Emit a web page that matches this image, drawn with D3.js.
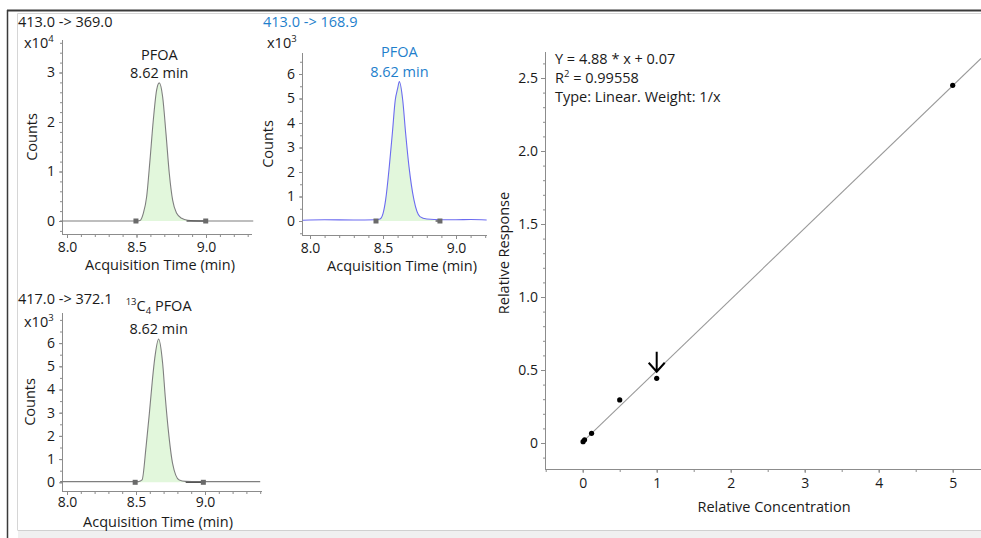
<!DOCTYPE html>
<html><head><meta charset="utf-8">
<script src="https://cdn.jsdelivr.net/npm/d3@7"></script>
<style>
html,body{margin:0;padding:0;background:#fff;}
svg{display:block;font-family:"Open Sans","Noto Sans",sans-serif;}
</style></head>
<body><svg id="c" width="981" height="538"></svg>
<script>
// ---------- DATA ----------
const chrom1Title = "413.0 -> 369.0";
const chrom1Times  = [7.95, 8.40, 8.50, 8.525, 8.549, 8.573, 8.597, 8.621, 8.645, 8.664, 8.688, 8.712, 8.736, 8.76, 8.789, 8.825, 8.87, 8.95, 9.10, 9.34];
const chrom1Counts = [0, 0, 0, 0.01, 0.155, 0.49, 1.23, 2.04, 2.65, 2.79, 2.51, 1.77, 0.96, 0.42, 0.155, 0.054, 0.015, 0, 0, 0]; // x10^4
const chrom1Integration = [8.496, 8.998];

const chrom2Title = "413.0 -> 168.9";
const chrom2Times  = [7.95, 8.10, 8.30, 8.45, 8.479, 8.50, 8.518, 8.543, 8.564, 8.584, 8.60, 8.612, 8.635, 8.655, 8.678, 8.712, 8.753, 8.80, 8.90, 9.00, 9.10, 9.21];
const chrom2Counts = [0.03, 0.05, 0.04, 0.05, 0.08, 0.3, 0.86, 2.22, 3.58, 4.94, 5.4, 5.69, 4.94, 3.58, 2.22, 0.86, 0.18, 0.08, 0.05, 0.05, 0.06, 0.04]; // x10^3
const chrom2Integration = [8.452, 8.89];

const chrom3Title = "417.0 -> 372.1";
const chrom3Times  = [7.95, 8.40, 8.52, 8.544, 8.573, 8.597, 8.619, 8.636, 8.664, 8.693, 8.712, 8.734, 8.765, 8.813, 8.86, 8.95, 9.40];
const chrom3Counts = [0.03, 0.03, 0.03, 0.1, 1.54, 2.98, 4.42, 5.35, 6.17, 5.13, 3.69, 2.26, 0.82, 0.1, 0.04, 0.03, 0.03]; // x10^3
const chrom3Integration = [8.494, 8.988];

const peakName = "PFOA";
const peakRT = "8.62 min";
const timeTicks = [8.0, 8.5, 9.0];
const counts1Ticks = [0, 1, 2, 3];
const counts2Ticks = [0, 1, 2, 3, 4, 5, 6];

const calConc = [0.005, 0.025, 0.12, 0.5, 1.0, 5.0];
const calResp = [0.009, 0.022, 0.066, 0.295, 0.443, 2.45];
const fitSlope = 0.488, fitIntercept = 0.007;
const calXTicks = [0, 1, 2, 3, 4, 5];
const calYTicks = [0, 0.5, 1.0, 1.5, 2.0, 2.5];
const selectedConc = 1.0;
const fitLines = ["Y = 4.88 * x + 0.07", "R2 = 0.99558", "Type: Linear. Weight: 1/x"];

// ---------- DRAW ----------
const svg = d3.select("#c");
const TXT = "#1a1a1a", AX = "#8c8c8c", BLUE = "#1f7fcc";
const FS = 14.5, TFS = 14, FONT = '"Open Sans","Noto Sans",sans-serif';

// frame
svg.append("rect").attr("x",18).attr("y",530).attr("width",963).attr("height",8).attr("fill","#f0f0f0");
svg.append("line").attr("x1",17.5).attr("x2",981).attr("y1",13.5).attr("y2",13.5).attr("stroke","#d6d6d6");
svg.append("line").attr("x1",17.5).attr("x2",17.5).attr("y1",13.5).attr("y2",530).attr("stroke","#d6d6d6");
svg.append("line").attr("x1",17.5).attr("x2",981).attr("y1",530.5).attr("y2",530.5).attr("stroke","#d0d0d0");
svg.append("line").attr("x1",7).attr("x2",981).attr("y1",10.5).attr("y2",10.5).attr("stroke","#3a3a3a").attr("stroke-width",2);
svg.append("line").attr("x1",7.5).attr("x2",7.5).attr("y1",10).attr("y2",538).attr("stroke","#3a3a3a").attr("stroke-width",1.5);

function ticksBetween(a, b, step){
  const out = [];
  const n0 = Math.ceil(a/step - 1e-9), n1 = Math.floor(b/step + 1e-9);
  for(let i=n0;i<=n1;i++) out.push(+(i*step).toFixed(6));
  return out;
}
function styleAxis(a){
  a.attr("font-size",TFS).attr("font-family",FONT);
  a.select(".domain").remove();
  a.selectAll(".tick line").attr("stroke",AX);
  a.selectAll(".tick text").attr("fill",TXT).attr("font-size",TFS);
}

function chrom(cfg){
  const g = svg.append("g");
  const x = d3.scaleLinear().domain([8,9]).range(cfg.xAnch);
  x.domain([x.invert(cfg.xR[0]), x.invert(cfg.xR[1])]).range(cfg.xR);
  const y = d3.scaleLinear().domain([0,1]).range(cfg.yAnch);
  y.domain([y.invert(cfg.yR[0]), y.invert(cfg.yR[1])]).range(cfg.yR);
  const col = cfg.color;
  g.append("text").attr("x",cfg.titleX).attr("y",cfg.titleY).attr("font-size",FS).attr("fill",cfg.titleColor).text(cfg.title);
  const m = g.append("text").attr("x",cfg.multX).attr("y",cfg.multY).attr("font-size",FS).attr("fill",TXT);
  m.append("tspan").text("x10");
  m.append("tspan").attr("font-size",9.5).attr("dy",-6).text(cfg.exp);
  g.append("text").attr("transform",`translate(${cfg.xR[0]-cfg.yLabOff},${(cfg.yR[0]+cfg.yR[1])/2}) rotate(-90)`)
    .attr("text-anchor","middle").attr("font-size",FS).attr("fill",TXT).text("Counts");
  // y axis
  const ya = g.append("g").attr("transform",`translate(${cfg.xR[0]},0)`)
    .call(d3.axisLeft(y).tickValues(cfg.yTicks).tickSize(3).tickPadding(4).tickFormat(d3.format("d")));
  styleAxis(ya);
  ya.selectAll("line.mn").data(ticksBetween(y.domain()[0], y.domain()[1], cfg.yMinor)).join("line").attr("class","mn")
    .attr("x1",-2).attr("x2",0).attr("y1",d=>y(d)+0.5).attr("y2",d=>y(d)+0.5).attr("stroke",AX);
  g.append("line").attr("x1",cfg.xR[0]+0.5).attr("x2",cfg.xR[0]+0.5).attr("y1",cfg.yR[1]).attr("y2",cfg.yR[0]).attr("stroke",AX);
  // x axis
  const xa = g.append("g").attr("transform",`translate(0,${cfg.yR[0]})`)
    .call(d3.axisBottom(x).tickValues(timeTicks).tickSize(4).tickPadding(cfg.xTickPad).tickFormat(d3.format(".1f")));
  styleAxis(xa);
  xa.selectAll("line.mn").data(ticksBetween(x.domain()[0], x.domain()[1], 0.1)).join("line").attr("class","mn")
    .attr("x1",d=>x(d)+0.5).attr("x2",d=>x(d)+0.5).attr("y1",0).attr("y2",3).attr("stroke",AX);
  g.append("line").attr("x1",cfg.xR[0]).attr("x2",cfg.xR[1]).attr("y1",cfg.yR[0]+0.5).attr("y2",cfg.yR[0]+0.5).attr("stroke",AX);
  g.append("text").attr("x",cfg.xLabX).attr("y",cfg.yR[0]+cfg.xLabOff).attr("text-anchor","middle").attr("font-size",FS).attr("fill",TXT).text("Acquisition Time (min)");
  // data
  const pts = cfg.times.map((t,i)=>[t, cfg.counts[i]]);
  const inInt = pts.filter(p=>p[0]>=cfg.integ[0] && p[0]<=cfg.integ[1]);
  const fillPts = [[cfg.integ[0], 0], ...inInt, [cfg.integ[1], 0]];
  g.append("path").datum(fillPts).attr("fill","#e2f7dc")
    .attr("d", d3.area().x(d=>x(d[0])).y0(y(0)).y1(d=>y(d[1])).curve(d3.curveMonotoneX));
  g.append("path").datum(pts).attr("fill","none").attr("stroke",col).attr("stroke-width",1.1)
    .attr("d", d3.line().x(d=>x(d[0])).y(d=>y(d[1])).curve(d3.curveMonotoneX));
  g.append("line").attr("x1",x(8.86)).attr("x2",x(cfg.integ[1])).attr("y1",y(0)).attr("y2",y(0)).attr("stroke","#555").attr("stroke-width",1.4);
  g.selectAll("rect.mk").data(cfg.integ).join("rect").attr("class","mk").attr("x",d=>x(d)-2.5).attr("y",y(0)-2.5).attr("width",5).attr("height",5).attr("fill","#6a6a6a");
  // peak label
  const px = x(cfg.labelT);
  const l1 = g.append("text").attr("x",px).attr("y",cfg.lab1Y).attr("text-anchor","middle").attr("font-size",FS).attr("fill",cfg.titleColor);
  if(cfg.isotope){
    l1.append("tspan").attr("font-size",9.5).attr("dy",-6).text("13");
    l1.append("tspan").attr("dy",6).text("C");
    l1.append("tspan").attr("font-size",9.5).attr("dy",3).text("4");
    l1.append("tspan").attr("dy",-3).text(" " + peakName);
  } else l1.text(peakName);
  g.append("text").attr("x",px).attr("y",cfg.lab2Y).attr("text-anchor","middle").attr("font-size",FS).attr("fill",cfg.titleColor).text(peakRT);
}

chrom({title:chrom1Title, titleX:18, titleY:27, titleColor:TXT, multX:24, multY:48, exp:"4",
  xAnch:[67,206], xR:[62,252], yAnch:[221,171.5], yR:[234,40], yTicks:counts1Ticks, yMinor:0.2,
  yLabOff:25, xTickPad:4, xLabX:160, xLabOff:36, times:chrom1Times, counts:chrom1Counts, integ:chrom1Integration,
  color:"#7f7f7f", labelT:8.664, lab1Y:60, lab2Y:78});
chrom({title:chrom2Title, titleX:263, titleY:27, titleColor:BLUE, multX:267, multY:48, exp:"3",
  xAnch:[310,456], xR:[302,487], yAnch:[221,196.5], yR:[235,53], yTicks:counts2Ticks, yMinor:0.5,
  yLabOff:29, xTickPad:4, xLabX:402, xLabOff:36, times:chrom2Times, counts:chrom2Counts, integ:chrom2Integration,
  color:"#6b6bf0", labelT:8.612, lab1Y:57, lab2Y:77});
chrom({title:chrom3Title, titleX:18, titleY:304, titleColor:TXT, multX:24, multY:327, exp:"3",
  xAnch:[67,205], xR:[62,262], yAnch:[482.3,459.1], yR:[491,313], yTicks:counts2Ticks, yMinor:0.5,
  yLabOff:27, xTickPad:2, xLabX:158, xLabOff:36, times:chrom3Times, counts:chrom3Counts, integ:chrom3Integration,
  color:"#7f7f7f", labelT:8.664, lab1Y:311, lab2Y:334, isotope:true});

// ---------- calibration ----------
{
  const g = svg.append("g");
  const xR = [545, 981], yR = [469, 52];
  const x = d3.scaleLinear().domain([0,1]).range([582.7,656.7]);
  x.domain([x.invert(xR[0]), x.invert(xR[1])]).range(xR);
  const y = d3.scaleLinear().domain([0,1]).range([443,297]);
  y.domain([y.invert(yR[0]), y.invert(yR[1])]).range(yR);
  g.append("clipPath").attr("id","cp").append("rect").attr("x",xR[0]).attr("y",yR[1]-8).attr("width",xR[1]-xR[0]).attr("height",yR[0]-yR[1]+8);
  const xEnd = x.domain()[1];
  g.append("line").attr("clip-path","url(#cp)")
    .attr("x1",x(0)).attr("y1",y(fitIntercept))
    .attr("x2",x(xEnd)).attr("y2",y(fitIntercept + fitSlope*xEnd))
    .attr("stroke","#9a9a9a").attr("stroke-width",1.1);
  g.selectAll("circle.pt").data(calConc.map((c,i)=>[c,calResp[i]])).join("circle").attr("class","pt")
    .attr("cx",d=>x(d[0])).attr("cy",d=>y(d[1])).attr("r",2.6).attr("fill","#000");
  const ax = x(selectedConc), ay = y(fitIntercept + fitSlope*selectedConc) + 1;
  g.append("path").attr("d",`M${ax},${ay-20}L${ax},${ay}M${ax-8},${ay-9}L${ax},${ay}L${ax+8},${ay-9}`)
    .attr("fill","none").attr("stroke","#000").attr("stroke-width",2);
  const ya = g.append("g").attr("transform",`translate(${xR[0]},0)`)
    .call(d3.axisLeft(y).tickValues(calYTicks).tickSize(4).tickPadding(3).tickFormat(d=>d===0?"0":d3.format(".1f")(d)));
  styleAxis(ya);
  ya.selectAll("line.mn").data(ticksBetween(y.domain()[0], y.domain()[1], 0.1)).join("line").attr("class","mn")
    .attr("x1",-2).attr("x2",0).attr("y1",d=>y(d)+0.5).attr("y2",d=>y(d)+0.5).attr("stroke",AX);
  g.append("line").attr("x1",xR[0]+0.5).attr("x2",xR[0]+0.5).attr("y1",yR[1]).attr("y2",yR[0]).attr("stroke",AX);
  const xa = g.append("g").attr("transform",`translate(0,${yR[0]})`)
    .call(d3.axisBottom(x).tickValues(calXTicks).tickSize(4).tickPadding(5).tickFormat(d3.format("d")));
  styleAxis(xa);
  xa.selectAll("line.mn").data(ticksBetween(x.domain()[0], x.domain()[1], 0.5)).join("line").attr("class","mn")
    .attr("x1",d=>x(d)+0.5).attr("x2",d=>x(d)+0.5).attr("y1",0).attr("y2",3).attr("stroke",AX);
  g.append("line").attr("x1",xR[0]).attr("x2",xR[1]).attr("y1",yR[0]+0.5).attr("y2",yR[0]+0.5).attr("stroke",AX);
  g.append("text").attr("x",774).attr("y",512).attr("text-anchor","middle").attr("font-size",FS).attr("fill",TXT).text("Relative Concentration");
  g.append("text").attr("transform",`translate(509,253) rotate(-90)`).attr("text-anchor","middle").attr("font-size",FS).attr("fill",TXT).text("Relative Response");
  g.append("text").attr("x",555).attr("y",64).attr("font-size",FS).attr("fill",TXT).text(fitLines[0]);
  const t1 = g.append("text").attr("x",555).attr("y",83).attr("font-size",FS).attr("fill",TXT);
  t1.append("tspan").text(fitLines[1].slice(0,1));
  t1.append("tspan").attr("font-size",9.5).attr("dy",-6).text(fitLines[1].slice(1,2));
  t1.append("tspan").attr("dy",6).text(fitLines[1].slice(2));
  g.append("text").attr("x",555).attr("y",102).attr("font-size",FS).attr("fill",TXT).text(fitLines[2]);
}
</script></body></html>
